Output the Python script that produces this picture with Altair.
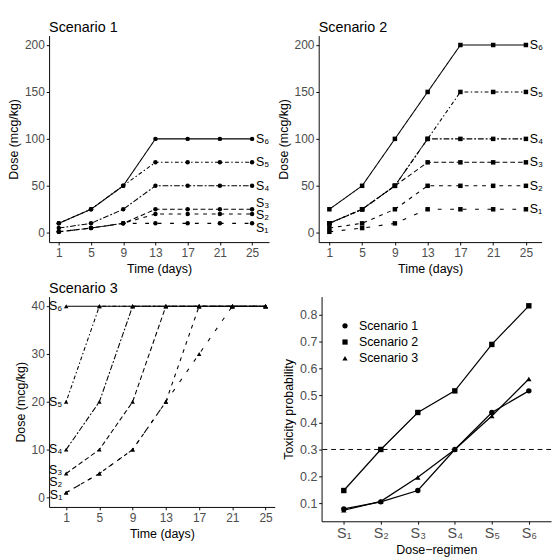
import altair as alt
import pandas as pd

# ---------------- data ----------------
times = [1, 5, 9, 13, 17, 21, 25]
regimens = ["S₁", "S₂", "S₃", "S₄", "S₅", "S₆"]

# Scenario 1 doses (rows = S1..S6, columns = times)
sc1_doses = [
    [1, 5, 10, 10, 10, 10, 10],
    [1, 5, 10, 20, 20, 20, 20],
    [1, 5, 10, 25, 25, 25, 25],
    [5, 10, 25, 50, 50, 50, 50],
    [10, 25, 50, 75, 75, 75, 75],
    [10, 25, 50, 100, 100, 100, 100],
]
sc1_label_y = [5, 19, 31, 50, 75, 100]

# Scenario 2 doses
sc2_doses = [
    [1, 5, 10, 25, 25, 25, 25],
    [5, 10, 25, 50, 50, 50, 50],
    [10, 25, 50, 75, 75, 75, 75],
    [10, 25, 50, 100, 100, 100, 100],
    [10, 25, 50, 100, 150, 150, 150],
    [25, 50, 100, 150, 200, 200, 200],
]
sc2_label_y = [25, 50, 75, 100, 150, 200]

# Scenario 3 doses
sc3_doses = [
    [1, 5, 10, 20, 30, 40, 40],
    [1, 5, 10, 20, 40, 40, 40],
    [5, 10, 20, 40, 40, 40, 40],
    [10, 20, 40, 40, 40, 40, 40],
    [20, 40, 40, 40, 40, 40, 40],
    [40, 40, 40, 40, 40, 40, 40],
]
sc3_label_y = [0.5, 3.2, 5.6, 10, 20, 40]

# Toxicity probabilities
scenarios = ["Scenario 1", "Scenario 2", "Scenario 3"]
tox_sc1 = [0.080, 0.106, 0.148, 0.300, 0.437, 0.517]
tox_sc2 = [0.148, 0.300, 0.437, 0.517, 0.689, 0.832]
tox_sc3 = [0.075, 0.108, 0.197, 0.300, 0.424, 0.561]
target_tox = 0.3

# ---------------- styling ----------------
FONT = "Liberation Sans"
dash_styles = [[4, 9], [4, 5], [5, 3], [6, 2, 2, 2], [1.5, 2.5, 4, 2.5], [1, 0]]


def dose_panel(doses, label_y, shape, title, width, height, xdom, ydom, yvals,
               label_x, label_align, label_dx):
    rows = []
    for reg, series in zip(regimens, doses):
        for t, d in zip(times, series):
            rows.append({"time": t, "dose": d, "regimen": reg})
    df = pd.DataFrame(rows)
    lab = pd.DataFrame({"time": [label_x] * len(regimens), "dose": label_y, "label": regimens})

    x = alt.X("time:Q", scale=alt.Scale(domain=xdom, nice=False, zero=False),
              axis=alt.Axis(values=times, title="Time (days)"))
    y = alt.Y("dose:Q", scale=alt.Scale(domain=ydom, nice=False, zero=False),
              axis=alt.Axis(values=yvals, title="Dose (mcg/kg)"))

    base = alt.Chart(df)
    lines = base.mark_line(color="black", strokeWidth=1.1).encode(
        x=x, y=y,
        strokeDash=alt.StrokeDash("regimen:N", scale=alt.Scale(domain=regimens, range=dash_styles), legend=None),
        detail="regimen:N",
    )
    pts = base.mark_point(filled=True, color="black", opacity=1, shape=shape, size=22).encode(x=x, y=y)
    labels = alt.Chart(lab).mark_text(align=label_align, baseline="middle", dx=label_dx,
                                      fontSize=13, color="black", font=FONT).encode(
        x=x, y=y, text="label:N")
    return alt.layer(lines, pts, labels).properties(
        width=width, height=height,
        title=alt.TitleParams(title, anchor="start", frame="group", fontSize=15,
                              fontWeight="normal", color="black", font=FONT, offset=1),
    )


p1 = dose_panel(sc1_doses, sc1_label_y, "circle", "Scenario 1", 230, 216,
                [-0.2, 27.1], [-10, 210], [0, 50, 100, 150, 200], 25, "left", 4)
p2 = dose_panel(sc2_doses, sc2_label_y, "square", "Scenario 2", 233, 216,
                [-0.3, 26.9], [-10, 210], [0, 50, 100, 150, 200], 25, "left", 4)
p3 = dose_panel(sc3_doses, sc3_label_y, "triangle-up", "Scenario 3", 236, 220,
                [-1.05, 26.1], [-2, 42], [0, 10, 20, 30, 40], 1, "right", -4)

# toxicity panel
tox_rows = []
for sc, vals in zip(scenarios, [tox_sc1, tox_sc2, tox_sc3]):
    for reg, v in zip(regimens, vals):
        tox_rows.append({"regimen": reg, "tox": v, "scenario": sc})
tox_df = pd.DataFrame(tox_rows)

tx = alt.X("regimen:N", sort=regimens, scale=alt.Scale(type="point", padding=0.6),
           axis=alt.Axis(title="Dose−regimen", labelAngle=0, labelFontSize=15))
ty = alt.Y("tox:Q", scale=alt.Scale(domain=[0.034, 0.866], nice=False, zero=False),
           axis=alt.Axis(values=[0.1, 0.2, 0.3, 0.4, 0.5, 0.6, 0.7, 0.8], format=".1f",
                         title="Toxicity probability", labelFontSize=13, labelOverlap=False))
tbase = alt.Chart(tox_df)
tlines = tbase.mark_line(color="black", strokeWidth=1.3).encode(x=tx, y=ty, detail="scenario:N")
tpts = tbase.mark_point(filled=True, color="black", opacity=1, size=32).encode(
    x=tx, y=ty,
    shape=alt.Shape("scenario:N",
                    scale=alt.Scale(domain=scenarios, range=["circle", "square", "triangle-up"]),
                    legend=alt.Legend(orient="none", legendX=18, legendY=24, title=None,
                                      labelFontSize=13, labelColor="black", labelFont=FONT,
                                      symbolSize=30, symbolFillColor="black",
                                      symbolStrokeColor="black", rowPadding=3, labelOffset=8)),
)
rule = alt.Chart(pd.DataFrame({"tox": [target_tox]})).mark_rule(
    color="black", strokeWidth=1, strokeDash=[5, 4]).encode(y=ty)
p4 = alt.layer(tlines, tpts, rule).properties(width=240, height=235)

row1 = alt.hconcat(p1, p2, spacing=8).resolve_legend(shape="independent")
row2 = alt.hconcat(p3, p4, spacing=8).resolve_legend(shape="independent")

chart = alt.vconcat(row1, row2, spacing=6).resolve_legend(shape="independent").properties(
    padding=0).configure(font=FONT).configure_view(stroke=None).configure_axis(
    grid=False, domainColor="black", domainWidth=1, tickColor="black", tickSize=3,
    labelColor="#4D4D4D", labelFontSize=12.5, labelFont=FONT, labelPadding=2,
    titleFont=FONT, titleFontSize=13, titleFontWeight="normal", titleColor="black",
    titlePadding=4,
)

chart.save("out.html", embed_options={"renderer": "svg", "actions": False})
